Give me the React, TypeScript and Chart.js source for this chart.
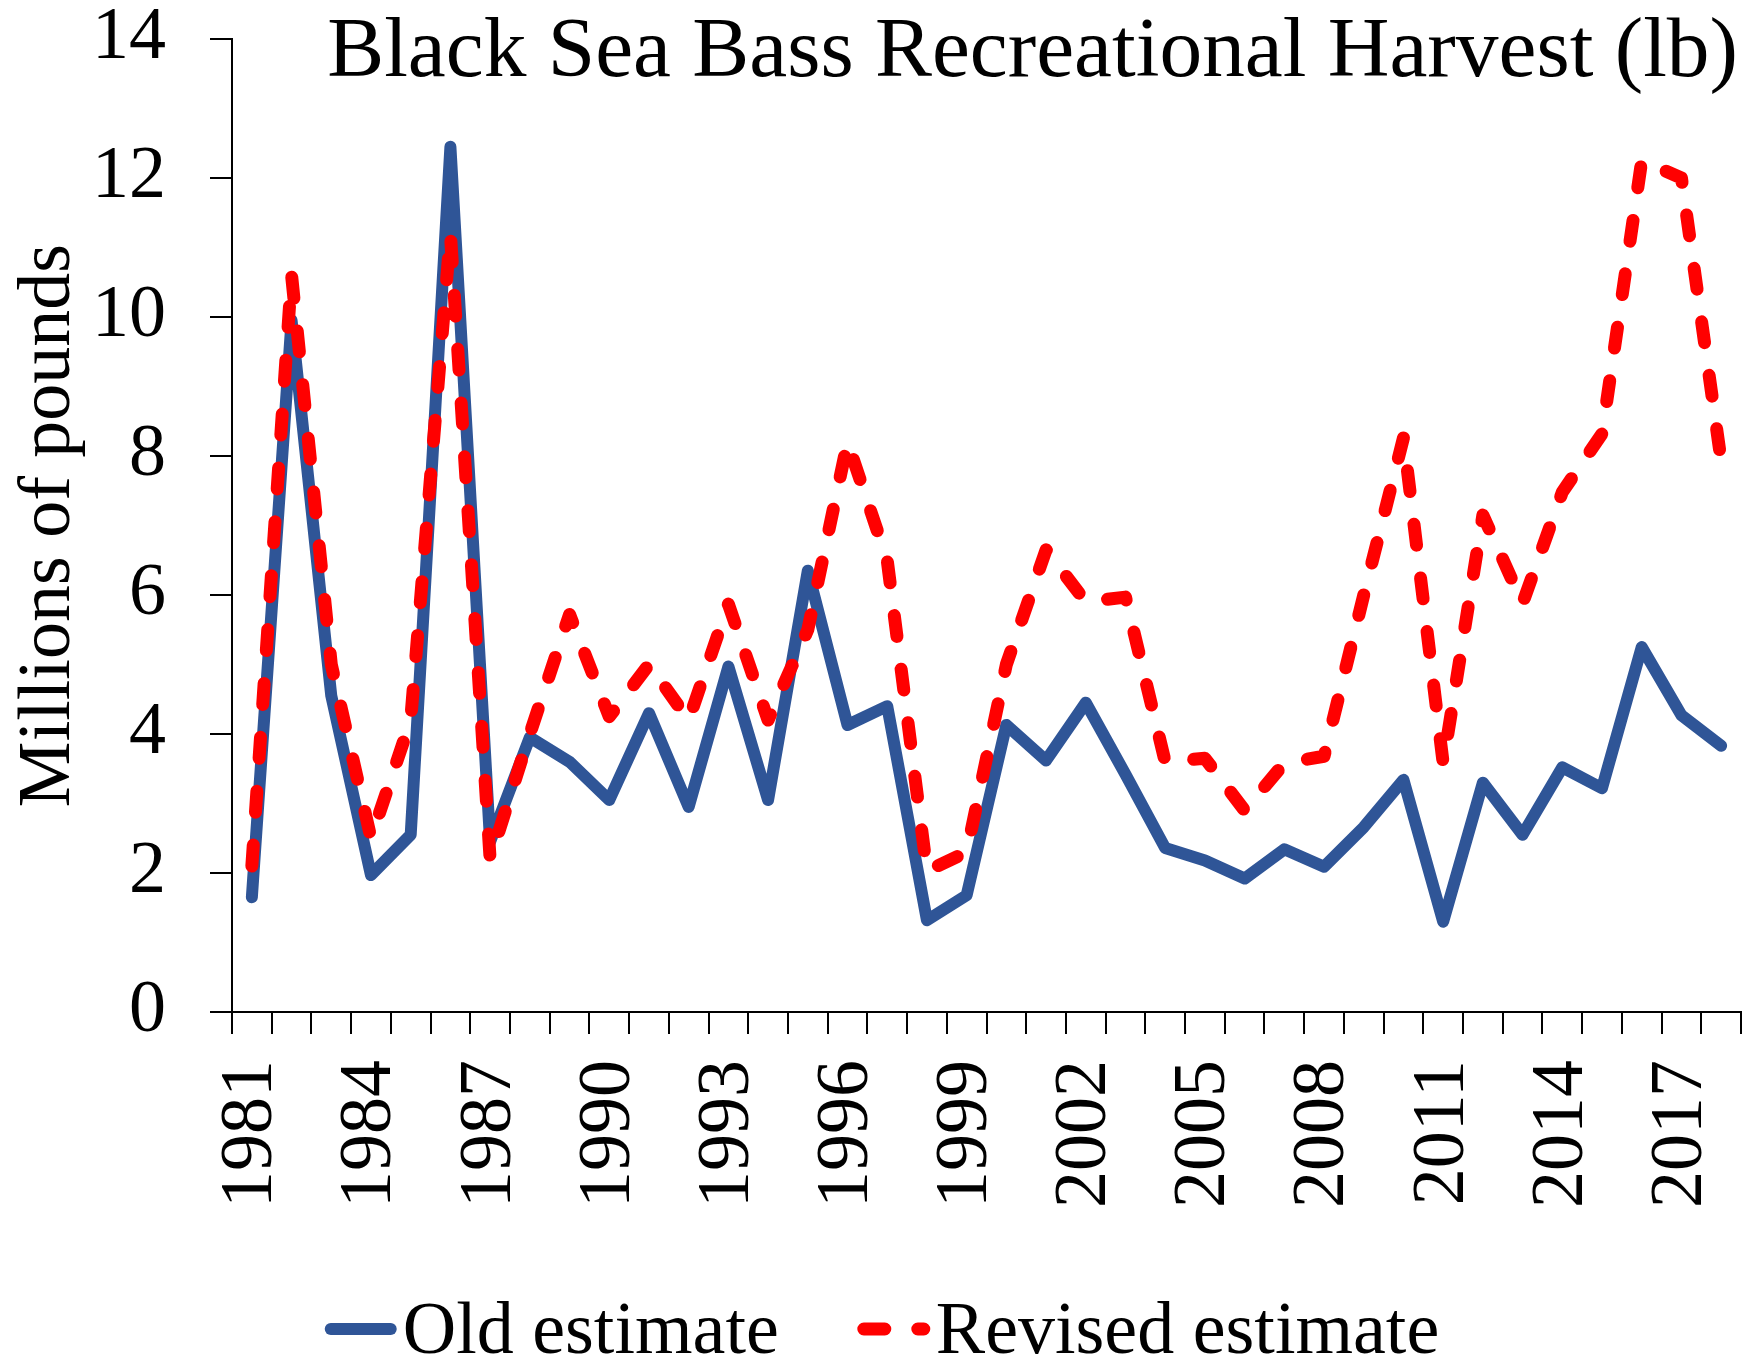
import React, { useEffect, useRef } from 'react';
import { Chart, registerables } from 'chart.js';

Chart.register(...registerables);

const years = [
  '1981', '1982', '1983', '1984', '1985', '1986', '1987', '1988', '1989', '1990',
  '1991', '1992', '1993', '1994', '1995', '1996', '1997', '1998', '1999', '2000',
  '2001', '2002', '2003', '2004', '2005', '2006', '2007', '2008', '2009', '2010',
  '2011', '2012', '2013', '2014', '2015', '2016', '2017', '2018',
];

const oldEstimate = [
  1.65, 9.95, 4.55, 1.97, 2.55, 12.45, 2.45, 3.95, 3.6, 3.05,
  4.3, 2.95, 4.97, 3.05, 6.35, 4.13, 4.4, 1.32, 1.68, 4.13,
  3.62, 4.45, 3.42, 2.36, 2.18, 1.92, 2.34, 2.09, 2.66, 3.34,
  1.3, 3.3, 2.55, 3.52, 3.22, 5.25, 4.27, 3.83,
];

const revisedEstimate = [
  2.1, 10.6, 5.0, 2.5, 4.2, 11.2, 2.2, 4.0, 5.72, 4.25,
  5.0, 4.2, 5.87, 4.2, 5.5, 8.2, 6.5, 2.03, 2.3, 5.0,
  6.65, 5.9, 5.97, 3.6, 3.65, 2.9, 3.58, 3.68, 6.0, 8.26,
  3.58, 7.15, 5.88, 7.48, 8.32, 12.25, 12.0, 7.93,
];

const seriesNames = ['Old estimate', 'Revised estimate'];
const yTickValues = [0, 2, 4, 6, 8, 10, 12, 14];
const chartTitle = 'Black Sea Bass Recreational Harvest (lb)';
const yAxisTitle = 'Millions of pounds';

const FONT = '"Liberation Serif", "Times New Roman", serif';

export default function App() {
  const ref = useRef<HTMLCanvasElement | null>(null);

  useEffect(() => {
    document.body.style.margin = '0';
    const canvas = ref.current;
    if (!canvas) return;

    const titlePlugin = {
      id: 'topTitle',
      afterDraw(chart: any) {
        const { ctx, chartArea } = chart;
        ctx.save();
        ctx.font = `85.4px ${FONT}`;
        ctx.fillStyle = '#000';
        ctx.textAlign = 'right';
        ctx.textBaseline = 'alphabetic';
        ctx.fillText(chartTitle, chartArea.right - 3, chartArea.top + 37);
        ctx.restore();
      },
    };

    const legendPlugin = {
      id: 'bottomLegend',
      afterDraw(chart: any) {
        const { ctx } = chart;
        ctx.save();
        ctx.font = `74px ${FONT}`;
        const sample = 72;
        const gapText = 6;
        const gapItem = 79;
        const items = chart.data.datasets.map((ds: any) => ({
          ds,
          w: ctx.measureText(ds.label).width,
        }));
        const total =
          items.reduce((s: number, it: any) => s + sample + gapText + it.w, 0) +
          gapItem * (items.length - 1);
        let x = chart.width / 2 + 3 - total / 2;
        const yLine = chart.height - 30;
        const yText = chart.height - 6;
        items.forEach(({ ds, w }: any) => {
          ctx.strokeStyle = ds.borderColor;
          ctx.lineWidth = ds.borderWidth;
          ctx.lineCap = 'round';
          ctx.setLineDash(ds.borderDash || []);
          ctx.beginPath();
          ctx.moveTo(x + 6, yLine);
          ctx.lineTo(x + sample - 6, yLine);
          ctx.stroke();
          ctx.setLineDash([]);
          ctx.fillStyle = '#000';
          ctx.textAlign = 'left';
          ctx.textBaseline = 'alphabetic';
          ctx.fillText(ds.label, x + sample + gapText, yText);
          x += sample + gapText + w + gapItem;
        });
        ctx.restore();
      },
    };

    const chart = new Chart(canvas, {
      type: 'line',
      data: {
        labels: years,
        datasets: [
          {
            label: seriesNames[0],
            data: oldEstimate,
            borderColor: '#2F5597',
            backgroundColor: '#2F5597',
            borderWidth: 12,
            pointRadius: 0,
            pointHoverRadius: 0,
            tension: 0,
            fill: false,
            borderCapStyle: 'round',
            borderJoinStyle: 'round',
            order: 2,
          },
          {
            label: seriesNames[1],
            data: revisedEstimate,
            borderColor: '#FF0000',
            backgroundColor: '#FF0000',
            borderWidth: 13,
            borderDash: [21, 33],
            pointRadius: 0,
            pointHoverRadius: 0,
            tension: 0,
            fill: false,
            borderCapStyle: 'round',
            borderJoinStyle: 'round',
            order: 1,
          },
        ],
      },
      options: {
        responsive: false,
        animation: false,
        devicePixelRatio: 1,
        events: [],
        layout: { padding: { top: 39, right: 17, left: 0, bottom: 0 } },
        plugins: {
          legend: { display: false },
          title: { display: false },
          tooltip: { enabled: false },
        },
        scales: {
          x: {
            type: 'category',
            offset: true,
            grid: {
              offset: true,
              drawOnChartArea: false,
              drawTicks: true,
              tickLength: 22,
              color: '#000',
              lineWidth: 2,
            },
            border: { display: true, color: '#000', width: 2 },
            ticks: {
              autoSkip: false,
              minRotation: 90,
              maxRotation: 90,
              padding: 26,
              color: '#000',
              font: { family: FONT, size: 74 },
              callback: (_v: any, i: number) => (i % 3 === 0 ? years[i] : ''),
            },
            afterFit: (s: any) => {
              s.height = 347;
              s.paddingLeft = 0;
              s.paddingRight = 0;
            },
          },
          y: {
            min: yTickValues[0],
            max: yTickValues[yTickValues.length - 1],
            ticks: {
              stepSize: yTickValues[1] - yTickValues[0],
              padding: 44,
              color: '#000',
              font: { family: FONT, size: 74 },
            },
            grid: {
              drawOnChartArea: false,
              drawTicks: true,
              tickLength: 22,
              color: '#000',
              lineWidth: 2,
            },
            border: { display: true, color: '#000', width: 2 },
            title: {
              display: true,
              text: yAxisTitle,
              color: '#000',
              font: { family: FONT, size: 74 },
              padding: { top: 5, bottom: 0 },
            },
            afterFit: (s: any) => {
              s.width = 232;
              s.paddingTop = 0;
              s.paddingBottom = 0;
            },
          },
        },
      } as any,
      plugins: [titlePlugin, legendPlugin],
    });

    return () => chart.destroy();
  }, []);

  return (
    <div style={{ width: 1758, height: 1359, background: '#fff' }}>
      <canvas ref={ref} width={1758} height={1359} style={{ display: 'block' }} />
    </div>
  );
}
